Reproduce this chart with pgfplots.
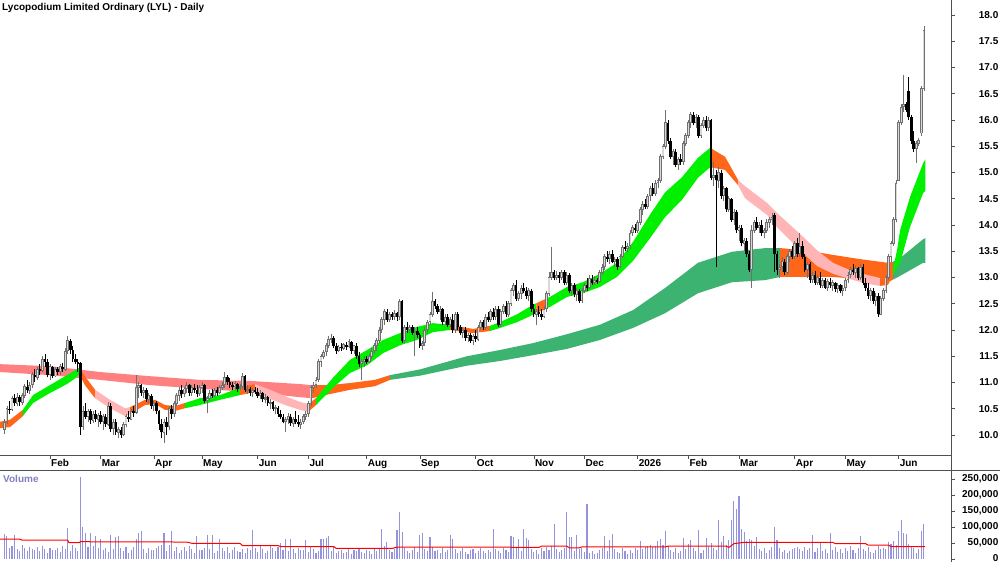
\documentclass[border=0pt]{standalone}
\usepackage{pgfplots}
\pgfplotsset{compat=1.18}
\usepackage{pgfplotstable}
\usepackage{fontspec}
\setmainfont{Liberation Sans}
\definecolor{stgreen}{HTML}{00F000}
\definecolor{storange}{HTML}{FF6619}
\definecolor{stpink}{HTML}{FFB5B5}
\definecolor{ltred}{HTML}{FF8080}
\definecolor{ltgreen}{HTML}{3CB371}
\definecolor{volbar}{HTML}{9494DC}
\definecolor{volname}{HTML}{8080C0}
\definecolor{upgray}{HTML}{707070}
\definecolor{upfill}{HTML}{D8D8D8}
\definecolor{frame}{HTML}{505050}

\pgfplotstableread{
i o h l c v
-18 10.10 10.30 10.02 10.25 78
-17 10.25 10.55 10.20 10.50 72
-16 10.50 10.65 10.40 10.48 35
-15 10.48 10.75 10.45 10.70 40
-14 10.70 10.78 10.55 10.60 75
-13 10.60 10.80 10.55 10.72 31
-12 10.72 10.76 10.55 10.62 26
-11 10.62 10.80 10.58 10.75 44
-10 10.75 10.98 10.70 10.92 33
-9 10.92 11.05 10.80 10.85 24
-8 10.85 11.00 10.78 10.95 38
-7 10.95 11.20 10.90 11.15 30
-6 11.15 11.25 11.00 11.10 29
-5 11.10 11.30 11.05 11.25 36
-4 11.25 11.35 11.15 11.22 25
-3 11.22 11.50 11.20 11.45 42
-2 11.45 11.55 11.30 11.40 30
-1 11.40 11.45 11.10 11.15 19
0 11.15 11.35 11.05 11.30 34
1 11.30 11.32 11.08 11.12 27
2 11.12 11.30 11.10 11.25 28
3 11.25 11.30 11.15 11.20 35
4 11.20 11.35 11.15 11.30 22
5 11.30 11.38 11.20 11.25 40
6 11.25 11.65 11.22 11.60 31
7 11.60 11.88 11.55 11.80 98
8 11.80 11.82 11.55 11.62 26
9 11.62 11.70 11.40 11.45 44
10 11.45 11.55 11.35 11.40 33
11 11.40 11.45 11.20 11.35 24
12 11.38 11.40 10.00 10.15 256
13 10.15 10.55 10.10 10.45 100
14 10.45 10.60 10.30 10.35 82
15 10.35 10.50 10.25 10.45 36
16 10.45 10.50 10.20 10.28 82
17 10.28 10.45 10.22 10.40 42
18 10.40 10.48 10.25 10.30 72
19 10.30 10.42 10.15 10.38 34
20 10.38 10.45 10.20 10.25 62
21 10.25 10.40 10.10 10.35 28
22 10.35 10.40 10.15 10.20 35
23 10.20 10.62 10.18 10.55 22
24 10.55 10.60 10.05 10.12 75
25 10.12 10.30 10.00 10.25 31
26 10.25 10.30 10.00 10.05 69
27 10.05 10.15 9.95 10.10 72
28 10.10 10.15 9.95 10.00 33
29 10.00 10.25 9.98 10.20 24
30 10.20 10.40 10.15 10.35 38
31 10.35 10.45 10.25 10.30 20
32 10.30 10.50 10.28 10.45 29
33 10.45 10.55 10.35 10.42 36
34 10.42 11.15 10.40 10.90 62
35 10.90 11.00 10.70 10.95 81
36 10.95 10.98 10.75 10.80 87
37 10.80 10.92 10.70 10.85 30
38 10.85 10.90 10.62 10.68 19
39 10.68 10.80 10.60 10.75 34
40 10.75 10.78 10.50 10.55 27
41 10.55 10.65 10.45 10.60 28
42 10.60 10.65 10.40 10.45 35
43 10.45 10.48 10.10 10.20 40
44 10.20 10.30 9.95 10.05 44
45 10.05 10.30 9.85 10.25 81
46 10.25 10.35 10.00 10.15 26
47 10.15 10.55 10.10 10.50 44
48 10.50 10.58 10.30 10.40 87
49 10.40 10.65 10.35 10.60 24
50 10.60 10.80 10.55 10.75 38
51 10.75 10.92 10.65 10.85 20
52 10.85 10.95 10.70 10.78 29
53 10.78 10.92 10.72 10.88 36
54 10.88 11.00 10.80 10.95 25
55 10.95 10.98 10.75 10.80 42
56 10.80 10.95 10.75 10.90 30
57 10.90 10.98 10.80 10.85 19
58 10.85 10.95 10.72 10.78 72
59 10.78 10.95 10.75 10.90 27
60 10.90 11.00 10.80 10.95 28
61 10.95 10.97 10.60 10.65 35
62 10.65 10.75 10.42 10.70 75
63 10.70 10.85 10.65 10.80 31
64 10.80 10.88 10.70 10.75 75
65 10.75 10.90 10.72 10.85 18
66 10.85 10.92 10.75 10.80 26
67 10.80 10.95 10.78 10.90 62
68 10.90 11.00 10.85 10.95 33
69 10.95 11.20 10.90 11.10 24
70 11.10 11.15 10.95 11.00 38
71 11.00 11.08 10.90 10.95 20
72 10.95 11.00 10.85 10.92 29
73 10.92 11.02 10.85 10.98 36
74 10.98 11.00 10.82 10.88 25
75 10.88 10.98 10.85 10.92 22
76 10.92 11.18 10.88 11.12 30
77 11.12 11.15 10.82 10.85 19
78 10.85 10.95 10.78 10.88 34
79 10.88 10.92 10.75 10.80 27
80 10.80 10.90 10.72 10.85 90
81 10.85 10.92 10.78 10.82 35
82 10.82 10.90 10.70 10.75 22
83 10.75 10.85 10.68 10.80 40
84 10.80 10.82 10.62 10.68 31
85 10.68 10.78 10.60 10.72 18
86 10.72 10.75 10.55 10.60 26
87 10.60 10.68 10.50 10.62 44
88 10.62 10.65 10.45 10.50 33
89 10.50 10.58 10.40 10.52 24
90 10.52 10.55 10.35 10.40 38
91 10.40 10.48 10.30 10.35 50
92 10.35 10.40 10.22 10.25 29
93 10.25 10.35 10.05 10.30 62
94 10.30 10.42 10.20 10.35 25
95 10.35 10.40 10.18 10.22 62
96 10.22 10.35 10.15 10.30 30
97 10.30 10.45 10.20 10.25 19
98 10.25 10.38 10.15 10.20 34
99 10.20 10.30 10.12 10.25 27
100 10.25 10.40 10.20 10.35 28
101 10.35 10.45 10.28 10.40 59
102 10.40 10.65 10.35 10.60 22
103 10.60 10.95 10.55 10.90 40
104 10.90 11.00 10.80 10.95 31
105 10.95 11.10 10.90 11.05 18
106 11.05 11.45 11.00 11.40 26
107 11.40 11.55 11.30 11.50 62
108 11.50 11.62 11.45 11.58 62
109 11.58 11.75 11.50 11.70 65
110 11.70 11.88 11.65 11.82 72
111 11.82 11.92 11.75 11.85 24
112 11.85 11.88 11.65 11.70 38
113 11.70 11.75 11.55 11.60 20
114 11.60 11.72 11.58 11.68 25
115 11.68 11.75 11.60 11.65 29
116 11.65 11.75 11.62 11.72 18
117 11.72 11.78 11.62 11.68 22
118 11.68 11.82 11.65 11.78 30
119 11.78 11.80 11.55 11.60 16
120 11.60 11.72 11.55 11.70 27
121 11.70 11.75 11.45 11.50 24
122 11.50 11.58 11.30 11.35 33
123 11.35 11.45 11.05 11.40 21
124 11.40 11.50 11.30 11.45 19
125 11.45 11.50 11.35 11.40 28
126 11.40 11.55 11.38 11.50 25
127 11.50 11.65 11.45 11.60 17
128 11.60 11.75 11.55 11.70 31
129 11.70 11.85 11.60 11.80 26
130 11.80 12.05 11.75 12.00 35
131 12.00 12.25 11.95 12.20 94
132 12.20 12.40 12.10 12.35 40
133 12.35 12.40 12.15 12.20 53
134 12.20 12.35 12.15 12.30 28
135 12.30 12.35 12.20 12.25 22
136 12.25 12.38 12.20 12.32 30
137 12.32 12.35 12.18 12.25 90
138 12.25 12.60 12.20 12.55 148
139 12.55 12.58 11.75 11.80 84
140 11.80 12.10 11.75 12.05 33
141 12.05 12.15 11.95 12.00 25
142 12.00 12.10 11.95 12.05 19
143 12.05 12.10 11.90 11.95 28
144 11.95 12.05 11.50 11.98 36
145 11.98 12.05 11.85 11.90 22
146 11.90 11.95 11.65 11.70 75
147 11.70 11.80 11.62 11.75 81
148 11.75 12.05 11.70 12.00 30
149 12.00 12.20 11.95 12.15 26
150 12.15 12.35 12.10 12.30 69
151 12.30 12.72 12.25 12.55 38
152 12.55 12.60 12.40 12.45 24
153 12.45 12.50 12.30 12.35 29
154 12.35 12.45 12.20 12.40 18
155 12.40 12.42 12.10 12.15 33
156 12.15 12.30 12.10 12.25 21
157 12.25 12.30 12.05 12.10 27
158 12.10 12.25 12.05 12.20 75
159 12.20 12.30 11.95 12.00 62
160 12.00 12.35 11.95 12.30 30
161 12.30 12.35 12.00 12.05 19
162 12.05 12.10 11.90 11.95 25
163 11.95 12.05 11.85 12.00 34
164 12.00 12.05 11.80 11.85 22
165 11.85 11.95 11.78 11.90 17
166 11.90 11.95 11.75 11.80 28
167 11.80 11.92 11.72 11.88 31
168 11.88 12.00 11.78 11.82 20
169 11.82 12.10 11.80 12.05 26
170 12.05 12.20 12.00 12.15 35
171 12.15 12.20 12.00 12.05 24
172 12.05 12.30 12.00 12.25 18
173 12.25 12.35 12.15 12.20 29
174 12.20 12.40 12.15 12.35 22
175 12.35 12.42 12.20 12.25 94
176 12.25 12.45 12.20 12.40 30
177 12.40 12.45 12.05 12.10 25
178 12.10 12.40 12.05 12.35 19
179 12.35 12.50 12.30 12.45 33
180 12.45 12.55 12.25 12.30 27
181 12.30 12.55 12.25 12.50 21
182 12.50 12.80 12.45 12.75 71
183 12.75 12.90 12.65 12.85 69
184 12.85 12.95 12.55 12.60 36
185 12.60 12.75 12.55 12.70 64
186 12.70 12.85 12.60 12.80 24
187 12.80 12.90 12.70 12.75 95
188 12.75 12.82 12.60 12.65 67
189 12.65 12.80 12.55 12.75 59
190 12.75 12.78 12.35 12.40 30
191 12.40 12.50 12.25 12.30 22
192 12.30 12.40 12.10 12.35 28
193 12.35 12.45 12.25 12.30 17
194 12.30 12.40 12.20 12.25 33
195 12.25 12.45 12.22 12.40 26
196 12.40 12.75 12.35 12.70 38
197 12.70 13.10 12.65 13.00 29
198 13.00 13.58 12.95 13.10 40
199 13.10 13.15 12.95 13.00 108
200 13.00 13.12 12.95 13.05 31
201 13.05 13.10 12.90 13.00 22
202 13.00 13.15 12.95 13.10 27
203 13.10 13.15 12.85 12.90 35
204 12.90 13.10 12.85 13.05 146
205 13.05 13.08 12.70 12.75 70
206 12.75 12.90 12.65 12.85 69
207 12.85 12.90 12.62 12.68 25
208 12.68 12.80 12.55 12.75 74
209 12.75 12.78 12.52 12.55 30
210 12.55 12.80 12.52 12.75 33
211 12.75 12.90 12.70 12.85 21
212 12.85 13.00 12.75 12.80 172
213 12.80 13.05 12.78 12.98 18
214 12.98 13.05 12.85 12.90 24
215 12.90 13.02 12.85 12.95 15
216 12.95 13.00 12.88 12.92 20
217 12.92 13.15 12.90 13.10 28
218 13.10 13.25 13.05 13.20 34
219 13.20 13.45 13.15 13.40 71
220 13.40 13.50 13.30 13.35 26
221 13.35 13.50 13.25 13.45 59
222 13.45 13.52 13.28 13.30 77
223 13.30 13.40 13.20 13.35 30
224 13.35 13.40 13.15 13.20 22
225 13.20 13.45 13.18 13.40 19
226 13.40 13.62 13.38 13.58 33
227 13.58 13.70 13.50 13.55 24
228 13.55 13.65 13.48 13.60 15
229 13.60 13.90 13.55 13.85 28
230 13.85 14.00 13.80 13.95 20
231 13.95 14.02 13.85 13.90 35
232 13.90 14.10 13.85 14.05 27
233 14.05 14.35 14.00 14.30 56
234 14.30 14.45 14.20 14.40 31
235 14.40 14.50 14.30 14.35 38
236 14.35 14.60 14.30 14.55 40
237 14.55 14.75 14.45 14.70 44
238 14.70 14.80 14.55 14.60 36
239 14.60 14.85 14.55 14.80 42
240 14.80 14.90 14.70 14.85 56
241 14.85 15.35 14.80 15.30 64
242 15.30 15.55 15.25 15.50 45
243 15.50 16.20 15.45 15.95 87
244 15.95 16.00 15.55 15.60 40
245 15.60 15.65 15.25 15.30 28
246 15.30 15.45 15.15 15.40 22
247 15.40 15.45 15.10 15.15 33
248 15.15 15.30 15.05 15.25 18
249 15.25 15.35 15.15 15.20 25
250 15.20 15.60 15.15 15.55 67
251 15.55 15.75 15.50 15.70 30
252 15.70 16.00 15.65 15.95 48
253 15.95 16.15 15.85 16.10 59
254 16.10 16.15 15.90 15.95 35
255 15.95 16.12 15.85 16.05 24
256 16.05 16.10 15.65 15.70 92
257 15.70 15.95 15.65 15.90 20
258 15.90 16.05 15.85 16.00 29
259 16.00 16.08 15.80 15.85 67
260 15.85 16.05 15.80 16.00 38
261 16.00 16.02 14.85 14.90 50
262 14.90 15.20 14.75 14.95 35
263 14.95 15.05 13.20 14.85 28
264 14.85 15.10 14.70 15.00 121
265 15.00 15.05 14.50 14.55 54
266 14.55 14.75 14.45 14.70 71
267 14.70 14.72 14.25 14.30 45
268 14.30 14.55 14.25 14.50 60
269 14.50 14.52 14.05 14.10 121
270 14.10 14.30 14.00 14.25 180
271 14.25 14.28 13.85 13.90 157
272 13.90 14.00 13.70 13.95 196
273 13.95 14.00 13.60 13.65 95
274 13.65 13.75 13.50 13.70 85
275 13.70 13.75 13.40 13.45 55
276 13.45 13.50 13.10 13.15 64
277 13.15 14.00 12.80 13.90 58
278 13.90 14.10 13.85 14.05 40
279 14.05 14.15 13.90 13.95 69
280 13.95 14.05 13.85 14.00 30
281 14.00 14.10 13.80 13.85 25
282 13.85 13.95 13.75 13.90 33
283 13.90 14.12 13.85 14.05 20
284 14.05 14.15 13.95 14.10 28
285 14.10 14.22 14.00 14.15 38
286 14.20 14.22 13.10 13.45 100
287 13.45 13.50 13.05 13.15 59
288 13.15 13.25 13.00 13.20 35
289 13.20 13.40 13.10 13.30 22
290 13.30 13.35 13.05 13.10 27
291 13.10 13.45 13.05 13.40 18
292 13.40 13.55 13.30 13.50 25
293 13.50 13.60 13.35 13.40 30
294 13.40 13.70 13.35 13.65 34
295 13.65 13.75 13.40 13.45 36
296 13.45 13.85 13.40 13.60 32
297 13.60 13.70 13.35 13.40 24
298 13.40 13.45 13.10 13.15 38
299 13.15 13.30 13.00 13.25 29
300 13.25 13.30 12.90 12.95 33
301 12.95 13.10 12.90 13.05 74
302 13.05 13.12 12.85 12.90 22
303 12.90 13.05 12.85 13.00 34
304 13.00 13.10 12.80 12.85 54
305 12.85 13.00 12.80 12.95 25
306 12.95 13.00 12.78 12.80 30
307 12.80 12.98 12.75 12.92 20
308 12.92 13.00 12.80 12.85 81
309 12.85 12.95 12.75 12.90 28
310 12.90 12.92 12.72 12.78 36
311 12.78 12.90 12.70 12.85 22
312 12.85 12.88 12.70 12.75 30
313 12.75 12.85 12.65 12.80 19
314 12.80 13.00 12.75 12.95 35
315 12.95 13.10 12.90 13.05 24
316 13.05 13.20 13.00 13.15 40
317 13.15 13.25 13.05 13.10 28
318 13.10 13.22 13.00 13.18 20
319 13.18 13.20 12.95 13.00 33
320 13.00 13.25 12.95 13.20 71
321 13.20 13.25 12.85 12.90 30
322 12.90 13.00 12.75 12.80 25
323 12.80 12.90 12.60 12.65 36
324 12.65 12.80 12.55 12.75 22
325 12.75 12.80 12.50 12.55 18
326 12.55 12.70 12.45 12.65 27
327 12.65 12.70 12.25 12.30 40
328 12.30 12.65 12.28 12.60 31
329 12.60 12.80 12.55 12.75 35
330 12.75 13.05 12.70 13.00 30
331 13.00 13.45 12.95 13.40 52
332 13.40 13.70 13.30 13.65 48
333 13.65 14.15 13.60 14.10 57
334 14.10 14.85 14.05 14.80 44
335 14.85 16.00 14.85 15.95 87
336 15.95 16.30 15.90 16.25 123
337 16.25 16.85 16.15 16.30 81
338 16.30 16.35 16.15 16.20 79
339 16.55 16.82 16.00 16.05 46
340 16.05 16.10 15.55 15.60 40
341 15.60 15.80 15.40 15.45 35
342 15.45 15.60 15.18 15.55 20
343 15.55 15.65 15.50 15.62 30
344 15.75 16.65 15.70 16.60 87
345 16.60 17.80 16.55 17.70 108
}\candles

\pgfplotstableread{
i k
-20 62
-12 62
-11 59
7 59
7.5 51
11.5 51
12 54
54 53
56 49
75 49
76 42
90 42
91 39
112 39
113 33
135 33
137 37
178 37
193 36
194 40
204 40
205 35
209 35
210 38
243 38
244 40
267 40
268 36
270 48
274 52
309 52
310 48
322 48
323 43
331 43
332 39
345.5 39
}\volma

\begin{document}
\begin{tikzpicture}[font=\bfseries\fontsize{10}{12}\selectfont]
\path[use as bounding box] (0pt,0pt) rectangle (1000pt,562pt);

\begin{axis}[
  at={(0pt,107pt)}, anchor=south west, scale only axis,
  width=951pt, height=455pt,
  xmin=-19.74, xmax=355.7, ymin=9.619, ymax=18.286,
  axis x line*=bottom, axis y line*=right,
  axis line style={-, draw=frame, line width=0.6pt},
  tick style={draw=frame, line width=0.6pt},
  tick align=outside, major tick length=3.5pt,
  xtick={0,20,41,60,82,102,125,146,168,191,211,232,252,272,294,314,335},
  xticklabels={Feb,Mar,Apr,May,Jun,Jul,Aug,Sep,Oct,Nov,Dec,2026,Feb,Mar,Apr,May,Jun},
  xticklabel style={anchor=north west, inner sep=0pt, xshift=1pt, yshift=-0.5pt},
  ytick={10,10.5,11,11.5,12,12.5,13,13.5,14,14.5,15,15.5,16,16.5,17,17.5,18},
  yticklabels={10.0,10.5,11.0,11.5,12.0,12.5,13.0,13.5,14.0,14.5,15.0,15.5,16.0,16.5,17.0,17.5,18.0},
  yticklabel style={anchor=east, inner sep=0pt, xshift=44pt},
  tick label style={font=\bfseries\fontsize{10}{12}\selectfont, text=black},
  clip=true,
]
% ---- long-term band ----
\addplot[fill=ltred, draw=none] coordinates {(-20,11.35) (0,11.31) (19.7,11.20) (39.5,11.12) (59.2,11.05) (79,11.03) (98.7,10.97) (103.4,10.95) (103.4,10.70) (98.7,10.72) (79,10.82) (59.2,10.88) (39.5,10.95) (19.7,11.05) (0,11.14) (-20,11.20)};
\addplot[fill=storange, draw=none] coordinates {(103.4,10.95) (110.5,10.95) (118.4,10.99) (128.3,11.05) (134.2,11.14) (134.2,11.05) (128.3,10.93) (118.4,10.86) (110.5,10.78) (103.4,10.70)};
\addplot[fill=ltgreen, draw=none] coordinates {(134.2,11.14) (146.1,11.25) (164.6,11.50) (177.7,11.62) (190.7,11.75) (204.1,11.92) (217.1,12.10) (230.2,12.38) (242.8,12.80) (255.8,13.28) (269.2,13.49) (282.3,13.56) (288.2,13.56) (288.2,13.01) (282.3,12.95) (269.2,12.91) (255.8,12.70) (242.8,12.32) (230.2,12.04) (217.1,11.81) (204.1,11.64) (190.7,11.52) (177.7,11.41) (164.6,11.32) (146.1,11.13) (134.2,11.05)};
\addplot[fill=storange, draw=none] coordinates {(288.2,13.56) (298.1,13.52) (309.1,13.43) (319.8,13.35) (330.8,13.28) (332.8,13.30) (332.8,12.96) (330.8,12.91) (319.8,12.97) (309.1,13.01) (298.1,13.01) (288.2,13.01)};
\addplot[fill=ltgreen, draw=none] coordinates {(332.8,13.30) (335.6,13.37) (344.7,13.73) (345.6,13.75) (345.6,13.28) (344.7,13.28) (335.6,13.03) (332.8,12.96)};
% ---- short-term band ----
\addplot[fill=storange, draw=none] coordinates {(-20,10.25) (-15.8,10.29) (-10.7,10.48) (-10.7,10.36) (-15.8,10.15) (-20,10.13)};
\addplot[fill=stgreen, draw=none] coordinates {(-10.7,10.48) (-6.7,10.76) (0,10.95) (6.7,11.14) (10.3,11.24) (11.5,11.28) (11.5,11.16) (10.3,11.09) (6.7,10.97) (0,10.80) (-6.7,10.61) (-10.7,10.36)};
\addplot[fill=storange, draw=none] coordinates {(11.5,11.28) (13.8,11.12) (17.8,10.86) (17.8,10.70) (13.8,10.95) (11.5,11.16)};
\addplot[fill=stpink, draw=none] coordinates {(17.8,10.86) (23.7,10.67) (29.6,10.51) (31.6,10.53) (31.6,10.40) (29.6,10.36) (23.7,10.51) (17.8,10.70)};
\addplot[fill=storange, draw=none] coordinates {(31.6,10.53) (37.5,10.67) (41.5,10.67) (45.4,10.57) (49.4,10.55) (53.3,10.61) (53.3,10.51) (49.4,10.46) (45.4,10.48) (41.5,10.59) (37.5,10.57) (31.6,10.40)};
\addplot[fill=stgreen, draw=none] coordinates {(53.3,10.61) (59.2,10.70) (67.1,10.76) (75,10.90) (75,10.76) (67.1,10.67) (59.2,10.57) (53.3,10.51)};
\addplot[fill=storange, draw=none] coordinates {(75,10.90) (80.9,10.97) (80.9,10.82) (75,10.76)};
\addplot[fill=stpink, draw=none] coordinates {(80.9,10.97) (86.9,10.86) (92.8,10.74) (98.7,10.63) (101.9,10.59) (101.9,10.44) (98.7,10.48) (92.8,10.57) (86.9,10.69) (80.9,10.82)};
\addplot[fill=storange, draw=none] coordinates {(101.9,10.59) (105,10.70) (105,10.57) (101.9,10.44)};
\addplot[fill=stgreen, draw=none] coordinates {(105,10.70) (111.7,11.09) (118.4,11.43) (125.2,11.62) (131.5,11.81) (138.2,11.94) (144.9,12.06) (151.2,12.13) (157.9,12.10) (157.9,12.00) (151.2,11.96) (144.9,11.81) (138.2,11.71) (131.5,11.56) (125.2,11.33) (118.4,11.18) (111.7,10.90) (105,10.57)};
\addplot[fill=storange, draw=none] coordinates {(157.9,12.10) (167,12.02) (173.7,12.08) (173.7,11.98) (167,11.94) (157.9,12.00)};
\addplot[fill=stgreen, draw=none] coordinates {(173.7,12.08) (177.7,12.15) (184.4,12.30) (190.7,12.48) (192,12.51) (192,12.32) (190.7,12.29) (184.4,12.15) (177.7,12.04) (173.7,11.98)};
\addplot[fill=storange, draw=none] coordinates {(192,12.51) (196,12.60) (196,12.41) (192,12.32)};
\addplot[fill=stgreen, draw=none] coordinates {(196,12.60) (197.4,12.63) (204.1,12.82) (210.4,12.91) (217.1,13.07) (223.8,13.28) (230.2,13.68) (236.9,14.20) (242.8,14.62) (249.5,14.91) (255.8,15.28) (260.6,15.47) (260.6,15.10) (255.8,14.90) (249.5,14.48) (242.8,14.15) (236.9,13.75) (230.2,13.32) (223.8,13.01) (217.1,12.82) (210.4,12.70) (204.1,12.63) (197.4,12.44) (196,12.41)};
\addplot[fill=storange, draw=none] coordinates {(260.6,15.47) (266.5,15.30) (271.6,14.86) (271.6,14.76) (266.5,15.05) (260.6,15.10)};
\addplot[fill=stpink, draw=none] coordinates {(271.6,14.86) (274.4,14.74) (283.1,14.42) (287,14.23) (296.1,13.83) (302.8,13.52) (309.1,13.28) (315.8,13.14) (322.5,13.05) (327.7,12.99) (327.7,12.84) (322.5,12.88) (315.8,12.97) (309.1,13.07) (302.8,13.22) (296.1,13.52) (287,13.96) (283.1,14.19) (274.4,14.51) (271.6,14.76)};
\addplot[fill=storange, draw=none] coordinates {(327.7,12.99) (330.8,13.05) (332.8,13.15) (332.8,13.05) (330.8,12.86) (327.7,12.84)};
\addplot[fill=stgreen, draw=none] coordinates {(332.8,13.15) (334.5,13.55) (335.6,13.90) (339.5,14.53) (344.7,15.18) (345.6,15.25) (345.6,14.65) (344.7,14.61) (339.5,13.96) (335.6,13.27) (334.5,13.20) (332.8,13.05)};
% ---- candles: wicks ----
\addplot[draw=none, mark=none, error bars/.cd, y dir=plus, y explicit, error mark=none,
  error bar style={draw=upgray, line width=0.8pt}]
  table[x=i, y expr={\thisrow{c}>=\thisrow{o} ? \thisrow{l} : nan}, y error expr={\thisrow{h}-\thisrow{l}}] {\candles};
\addplot[draw=none, mark=none, error bars/.cd, y dir=plus, y explicit, error mark=none,
  error bar style={draw=black, line width=0.8pt}]
  table[x=i, y expr={\thisrow{c}<\thisrow{o} ? \thisrow{l} : nan}, y error expr={\thisrow{h}-\thisrow{l}}] {\candles};
% ---- candles: bodies ----
\addplot[draw=none, mark=none, error bars/.cd, y dir=plus, y explicit, error mark=none,
  error bar style={draw=upgray, line width=2.8pt}]
  table[x=i, y expr={\thisrow{c}>=\thisrow{o} ? \thisrow{o}-0.005 : nan}, y error expr={\thisrow{c}-\thisrow{o}+0.010}] {\candles};
\addplot[draw=none, mark=none, error bars/.cd, y dir=plus, y explicit, error mark=none,
  error bar style={draw=upfill, line width=1.1pt}]
  table[x=i, y expr={\thisrow{c}-\thisrow{o}>0.04 ? \thisrow{o}+0.012 : nan}, y error expr={\thisrow{c}-\thisrow{o}-0.024}] {\candles};
\addplot[draw=none, mark=none, error bars/.cd, y dir=plus, y explicit, error mark=none,
  error bar style={draw=black, line width=2.6pt}]
  table[x=i, y expr={\thisrow{c}<\thisrow{o} ? \thisrow{c} : nan}, y error expr={\thisrow{o}-\thisrow{c}}] {\candles};
\end{axis}

\begin{axis}[
  at={(0pt,0pt)}, anchor=south west, scale only axis,
  width=951pt, height=92pt,
  xmin=-19.74, xmax=355.7, ymin=-9.375, ymax=278.1,
  axis x line=none, axis y line*=right,
  axis line style={-, draw=frame, line width=0.6pt},
  tick style={draw=frame, line width=0.6pt},
  tick align=outside, major tick length=3.5pt,
  xtick=\empty,
  ytick={0,50,100,150,200,250},
  yticklabels={\raisebox{2.5pt}{0},{50,000},{100,000},{150,000},{200,000},{250,000}},
  yticklabel style={anchor=east, inner sep=0pt, xshift=44pt},
  tick label style={font=\bfseries\fontsize{10}{12}\selectfont, text=black},
  clip=true,
]
\addplot[volbar, line width=1.1pt, ycomb] table[x=i, y=v] {\candles};
\addplot[red, line width=1pt] table[x=i, y=k] {\volma};
\end{axis}

\draw[frame, line width=0.6pt] (0pt,92pt) -- (1000pt,92pt);
\draw[frame, line width=0.6pt] (951pt,0pt) -- (951pt,562pt);
\node[anchor=north west, inner sep=0pt] at (2pt,559pt) {Lycopodium Limited Ordinary (LYL) - Daily};
\node[anchor=north west, inner sep=0pt, text=volname] at (3pt,87pt) {Volume};
\end{tikzpicture}
\end{document}
